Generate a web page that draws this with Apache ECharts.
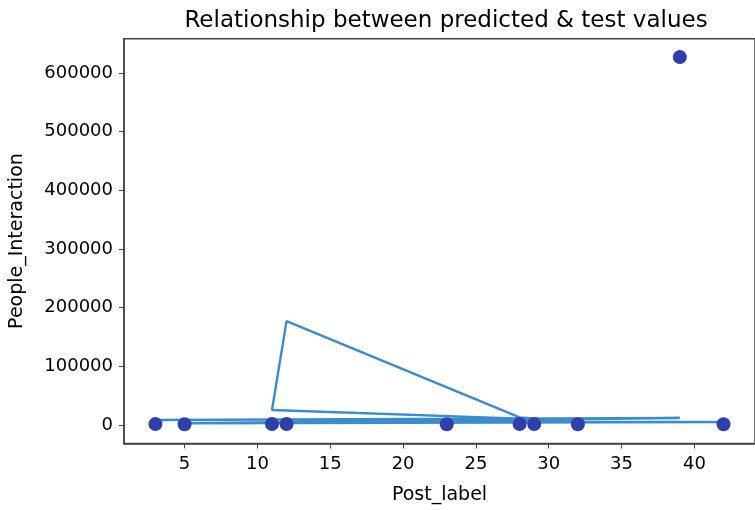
<!DOCTYPE html>
<html>
<head>
<meta charset="utf-8">
<script src="https://cdn.jsdelivr.net/npm/echarts@6/dist/echarts.min.js"></script>
<style>html,body{margin:0;padding:0;background:#fff}#c{width:755px;height:510px}</style>
</head>
<body>
<div id="c"></div>
<script>
// Test values (scatter)
const testX = [3, 5, 11, 12, 23, 28, 29, 32, 39, 42];
const testY = [1500, 1200, 1800, 1600, 1400, 1700, 1500, 1300, 627000, 1200];
// Predicted values (line, in test-set order)
const predX = [3, 39, 5, 42, 23, 29, 11, 12, 28, 32];
const predY = [8500, 12000, 3000, 5000, 5000, 10000, 25500, 177000, 13000, 6000];
// Tick labels
const xTicks = [5, 10, 15, 20, 25, 30, 35, 40];
const yTicks = [0, 100000, 200000, 300000, 400000, 500000, 600000];

const font = 'DejaVu Sans';
const chart = echarts.init(document.getElementById('c'), null, {renderer: 'canvas'});
chart.setOption({
  animation: false,
  backgroundColor: '#fff',
  title: {
    text: 'Relationship between predicted & test values',
    left: 441, top: 5, textAlign: 'center',
    textStyle: {fontFamily: font, fontSize: 23, fontWeight: 'normal', color: '#000'}
  },
  grid: {
    left: 120, top: 38.7, width: 638, height: 404.7,
    show: true, borderColor: '#444', borderWidth: 1.5, backgroundColor: '#fff'
  },
  xAxis: {
    type: 'value', min: 0.84, max: 44.16,
    name: 'Post_label', nameLocation: 'middle', nameGap: 42,
    nameTextStyle: {fontFamily: font, fontSize: 19, color: '#000'},
    splitLine: {show: false},
    axisLine: {show: true, onZero: false, lineStyle: {color: '#444', width: 1.5}},
    axisTick: {show: true, length: 5, customValues: xTicks, lineStyle: {color: '#444'}},
    axisLabel: {customValues: xTicks, margin: 12, fontFamily: font, fontSize: 18, color: '#000'}
  },
  yAxis: {
    type: 'value', min: -31350, max: 658350,
    name: 'People_Interaction', nameLocation: 'middle', nameGap: 97,
    nameTextStyle: {fontFamily: font, fontSize: 19, color: '#000'},
    splitLine: {show: false},
    axisLine: {show: true, onZero: false, lineStyle: {color: '#444', width: 1.5}},
    axisTick: {show: true, length: 5, customValues: yTicks, lineStyle: {color: '#444'}},
    axisLabel: {customValues: yTicks, margin: 11, fontFamily: font, fontSize: 18, color: '#000',
      formatter: v => String(v)}
  },
  series: [
    {
      type: 'line',
      data: predX.map((x, i) => [x, predY[i]]),
      showSymbol: false, symbol: 'none',
      lineStyle: {color: '#3a8dcc', width: 2.4},
      z: 2
    },
    {
      type: 'scatter',
      data: testX.map((x, i) => [x, testY[i]]),
      symbolSize: 14,
      itemStyle: {color: '#2f3fae', opacity: 1},
      z: 3
    }
  ]
});
</script>
</body>
</html>
